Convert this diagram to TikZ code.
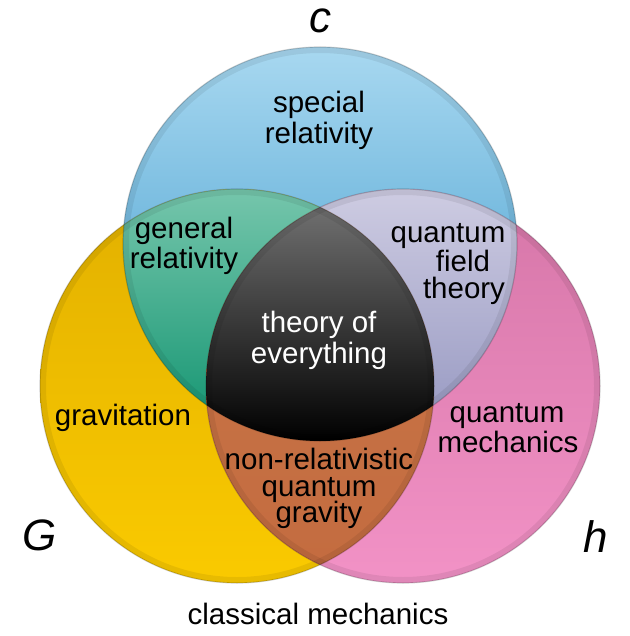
\documentclass[tikz,border=0pt]{standalone}
\usepackage{fontspec}
\setmainfont{Liberation Sans}
\definecolor{bluetop}{RGB}{168,216,240}
\definecolor{bluemid}{RGB}{72,166,214}
\definecolor{bluebot}{RGB}{56,150,202}
\definecolor{yeltop}{RGB}{226,176,0}
\definecolor{yelbot}{RGB}{250,202,0}
\definecolor{pinktop}{RGB}{214,118,168}
\definecolor{pinkbot}{RGB}{242,146,198}
\definecolor{greentop}{RGB}{118,198,172}
\definecolor{greenbot}{RGB}{14,146,110}
\definecolor{lavtop}{RGB}{206,204,226}
\definecolor{lavbot}{RGB}{148,150,192}
\definecolor{orgtop}{RGB}{200,118,72}
\definecolor{orgbot}{RGB}{196,108,64}
\definecolor{blacktop}{RGB}{112,112,112}
\begin{document}
\begin{tikzpicture}[x=1pt,y=-1pt,
  lbl/.style={font=\fontsize{29.5}{30}\selectfont, text=black, inner sep=0pt, anchor=base},
  sym/.style={font=\fontsize{44}{44}\itshape\selectfont, text=black, inner sep=0pt, anchor=base},
  rimdark/.style={line width=12pt, draw=black, opacity=0.07},
  rimline/.style={line width=1.2pt, draw=black, opacity=0.18}]
\useasboundingbox (0,0) rectangle (629,636);
\fill[white] (0,0) rectangle (629,636);
\def\Cb{(320,244) circle (197pt)}
\def\Cy{(237,386) circle (197pt)}
\def\Cp{(403,386) circle (197pt)}
% single circles
\shade[top color=bluetop, middle color=bluemid, bottom color=bluebot] \Cb;
\shade[top color=yeltop, bottom color=yelbot] \Cy;
\shade[top color=pinktop, bottom color=pinkbot] \Cp;
% blue and yellow
\begin{scope}
  \clip \Cb; \clip \Cy;
  \shade[top color=greentop, bottom color=greenbot] (40,188) rectangle (330,441);
\end{scope}
% blue and pink
\begin{scope}
  \clip \Cb; \clip \Cp;
  \shade[top color=lavtop, bottom color=lavbot] (300,188) rectangle (600,441);
\end{scope}
% yellow and pink
\begin{scope}
  \clip \Cy; \clip \Cp;
  \shade[top color=orgtop, bottom color=orgbot] (200,206) rectangle (440,565);
\end{scope}
% all three
\begin{scope}
  \clip \Cb; \clip \Cy; \clip \Cp;
  \shade[top color=blacktop, middle color=black!92, bottom color=black] (200,206) rectangle (440,441);
\end{scope}
% rims
\begin{scope}\clip \Cb; \draw[rimdark] \Cb;\end{scope}
\begin{scope}\clip \Cy; \draw[rimdark] \Cy;\end{scope}
\begin{scope}\clip \Cp; \draw[rimdark] \Cp;\end{scope}
\draw[rimline] \Cb;
\draw[rimline] \Cy;
\draw[rimline] \Cp;
% symbols
\node[sym] (c) at (320,33) {c};
\node[sym] (G) at (40,550) {G};
\node[sym] (h) at (596,552) {h};
% labels
\node[lbl] (sr1) at (319,113) {special};
\node[lbl] (sr2) at (319,144) {relativity};
\node[lbl] (gr1) at (184,238) {general};
\node[lbl] (gr2) at (184,268) {relativity};
\node[lbl] (qft1) at (448,242) {quantum};
\node[lbl] (qft2) at (463,271) {field};
\node[lbl] (qft3) at (464,298) {theory};
\node[lbl, text=white] (toe1) at (319,332) {theory of};
\node[lbl, text=white] (toe2) at (319,363) {everything};
\node[lbl] (grav) at (123,425) {gravitation};
\node[lbl] (qm1) at (507,422) {quantum};
\node[lbl] (qm2) at (508,452) {mechanics};
\node[lbl] (nrq1) at (319,469) {non-relativistic};
\node[lbl] (nrq2) at (319,496) {quantum};
\node[lbl] (nrq3) at (319,522) {gravity};
\node[lbl] (cm) at (318,624) {classical mechanics};
\end{tikzpicture}
\end{document}
